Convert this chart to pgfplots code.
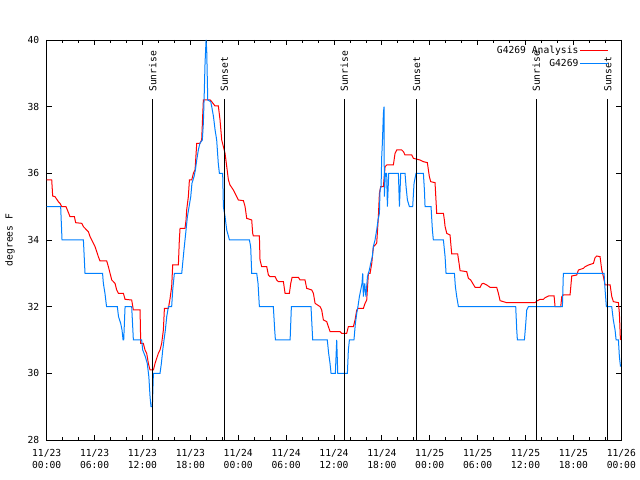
\documentclass[border=0pt]{standalone}
\usepackage{pgfplots}
\pgfplotsset{compat=1.18}
\usepackage{fontspec}
\setmainfont{DejaVu Sans Mono}
\definecolor{gred}{RGB}{255,0,0}
\definecolor{gblue}{RGB}{0,128,255}
\newcommand\fs{\fontsize{9.7}{12}\selectfont}
\begin{document}
\begin{tikzpicture}[font=\fs]
\begin{axis}[
  scale only axis, width=574.6bp, height=400bp,
  xmin=0, xmax=72, ymin=28, ymax=40,
  xtick={0,6,...,72}, minor x tick num=2,
  ytick={28,30,...,40},
  xticklabels={{11/23\\00:00},{11/23\\06:00},{11/23\\12:00},{11/23\\18:00},{11/24\\00:00},{11/24\\06:00},{11/24\\12:00},{11/24\\18:00},{11/25\\00:00},{11/25\\06:00},{11/25\\12:00},{11/25\\18:00},{11/26\\00:00}},
  xticklabel style={align=center, font=\fs, yshift=-5.5bp},
  yticklabel style={font=\fs, xshift=-4bp},
  ylabel={degrees F}, ylabel style={font=\fs}, ylabel shift=6bp,
  /pgf/number format/assume math mode=true,
  tick align=inside, xtick pos=both, ytick pos=both,
  major tick length=5bp, minor tick length=3bp,
  tick style={black, line width=0.8bp},
  axis line style={line width=0.8bp},
  legend style={at={(0.984,0.995)}, anchor=north east, draw=none, fill=none, font=\fs, row sep=1.5bp, nodes={inner sep=1.5bp}},
  legend cell align=right, legend plot pos=right,
  legend image code/.code={\draw[#1] (2bp,0bp) -- (30bp,0bp);},
]
\addplot[gred, line width=1bp] coordinates {
(0,35.8) (0.63,35.8) (0.75,35.32) (1.04,35.3) (1.46,35.15) (1.67,35.1) (1.88,35.0) (2.42,35.0) (2.59,34.9) (2.76,34.8) (2.92,34.7) (3.47,34.7) (3.63,34.52) (4.39,34.5) (4.6,34.4) (5.01,34.3) (5.22,34.25) (5.43,34.1) (5.64,34.0) (5.85,33.9) (6.06,33.8) (6.27,33.65) (6.47,33.5) (6.68,33.37) (7.52,33.37) (7.73,33.2) (7.94,33.0) (8.15,32.8) (8.56,32.7) (8.77,32.5) (8.98,32.4) (9.61,32.4) (9.82,32.22) (10.65,32.2) (10.86,31.9) (11.7,31.9) (11.78,30.9) (12.11,30.9) (12.32,30.7) (12.53,30.6) (12.74,30.3) (12.95,30.1) (13.37,30.1) (13.58,30.3) (13.78,30.45) (13.99,30.6) (14.2,30.7) (14.41,30.9) (14.62,31.3) (14.75,31.95) (15.25,31.95) (15.46,32.25) (15.66,32.6) (15.79,33.25) (16.5,33.25) (16.62,34.0) (16.71,34.35) (17.33,34.35) (17.46,34.6) (17.54,34.9) (17.75,35.3) (17.88,35.8) (18.17,35.8) (18.38,36.0) (18.59,36.1) (18.8,36.9) (19.21,36.9) (19.42,37.0) (19.63,38.2) (20.47,38.2) (20.68,38.15) (21.09,38.02) (21.51,38.02) (21.72,37.6) (21.93,37.0) (22.14,36.8) (22.35,36.6) (22.56,36.2) (22.77,35.8) (22.97,35.65) (23.39,35.5) (23.81,35.3) (24.02,35.2) (24.65,35.18) (24.86,35.0) (25.06,34.65) (25.69,34.6) (25.81,34.2) (25.9,34.12) (26.65,34.12) (26.73,33.4) (26.94,33.2) (27.57,33.2) (27.78,32.95) (27.99,32.9) (28.61,32.9) (28.82,32.8) (29.03,32.75) (29.66,32.75) (29.87,32.4) (30.41,32.4) (30.58,32.7) (30.75,32.88) (31.54,32.88) (31.75,32.8) (32.37,32.8) (32.58,32.55) (33.21,32.5) (33.42,32.4) (33.63,32.1) (34.25,32.0) (34.46,31.9) (34.67,31.6) (35.09,31.55) (35.3,31.4) (35.51,31.25) (36.76,31.25) (36.97,31.2) (37.59,31.2) (37.8,31.4) (38.43,31.4) (38.64,31.6) (38.85,31.9) (39.06,31.95) (39.68,31.95) (39.89,32.1) (40.1,32.2) (40.31,33.0) (40.52,33.0) (40.73,33.3) (40.94,33.8) (41.35,33.9) (41.56,34.7) (41.69,35.4) (41.85,35.6) (42.19,35.6) (42.4,36.2) (42.61,36.25) (43.44,36.25) (43.65,36.6) (43.86,36.7) (44.49,36.7) (44.7,36.65) (44.9,36.55) (45.74,36.55) (45.95,36.45) (46.78,36.4) (47.2,36.35) (47.7,36.32) (47.83,36.1) (47.95,35.9) (48.12,35.75) (48.66,35.72) (48.87,34.8) (49.71,34.8) (49.83,34.6) (49.92,34.4) (50.13,34.2) (50.54,34.15) (50.75,33.58) (51.5,33.58) (51.67,33.3) (51.8,33.08) (52.63,33.05) (52.84,32.85) (53.13,32.8) (53.38,32.7) (53.68,32.58) (54.3,32.58) (54.51,32.68) (54.72,32.7) (55.14,32.65) (55.56,32.58) (56.39,32.58) (56.6,32.4) (56.81,32.18) (57.64,32.12) (61.2,32.12) (61.4,32.17) (61.82,32.22) (62.24,32.22) (62.45,32.27) (62.87,32.32) (63.58,32.32) (63.7,32.0) (64.41,32.0) (64.54,32.3) (64.75,32.35) (65.58,32.35) (65.79,32.92) (66.42,32.95) (66.63,33.1) (67.25,33.15) (67.46,33.2) (67.88,33.25) (68.51,33.3) (68.71,33.47) (68.92,33.52) (69.34,33.5) (69.55,33.1) (69.76,32.9) (69.97,32.65) (70.6,32.65) (70.81,32.3) (71.01,32.15) (71.64,32.12) (71.76,31.8) (71.89,31.0)
};
\addlegendentry{G4269 Analysis}
\addplot[gblue, line width=1bp] coordinates {
(0,35.0) (1.75,35.0) (1.92,34.0) (4.6,34.0) (4.8,33.0) (7.0,33.0) (7.1,32.7) (7.3,32.4) (7.5,32.0) (8.85,32.0) (9.0,31.7) (9.27,31.5) (9.44,31.3) (9.57,31.0) (9.65,31.0) (9.82,32.0) (10.65,32.0) (10.86,31.0) (11.9,31.0) (12.03,30.7) (12.36,30.5) (12.6,30.3) (12.8,29.9) (12.95,29.3) (13.07,29.0) (13.24,29.0) (13.37,30.0) (14.2,30.0) (14.37,30.3) (14.54,30.7) (14.7,31.0) (14.87,31.3) (15.04,31.7) (15.25,32.0) (15.66,32.0) (15.79,32.5) (16.0,33.0) (16.92,33.0) (17.04,33.3) (17.2,33.7) (17.33,34.0) (17.46,34.3) (17.63,34.7) (17.84,35.0) (18.05,35.3) (18.2,35.7) (18.46,35.9) (18.63,36.1) (18.8,36.4) (19.0,36.7) (19.2,36.9) (19.5,37.0) (19.63,37.5) (19.72,38.2) (19.84,39.3) (19.97,40.0) (20.05,39.7) (20.18,38.2) (20.55,38.15) (20.68,38.0) (20.9,37.7) (21.1,37.3) (21.3,37.0) (21.5,36.3) (21.64,36.0) (22.05,36.0) (22.14,35.0) (22.35,34.7) (22.56,34.3) (22.9,34.0) (25.4,34.0) (25.56,33.8) (25.69,33.0) (26.32,33.0) (26.48,32.7) (26.65,32.0) (28.4,32.0) (28.57,31.3) (28.66,31.0) (30.5,31.0) (30.66,32.0) (33.12,32.0) (33.33,31.0) (35.16,31.0) (35.33,30.6) (35.5,30.3) (35.63,30.0) (36.17,30.0) (36.34,31.0) (36.47,30.0) (37.68,30.0) (37.8,30.7) (37.93,31.0) (38.5,31.0) (38.68,31.5) (38.85,31.8) (39.0,32.0) (39.18,32.3) (39.35,32.5) (39.51,32.7) (39.6,33.0) (39.68,32.3) (39.85,32.7) (40.0,32.3) (40.19,32.9) (40.43,33.1) (40.6,33.3) (40.8,33.5) (40.93,33.8) (41.14,34.0) (41.35,34.3) (41.52,34.6) (41.69,34.8) (41.77,35.5) (41.9,35.6) (41.98,36.5) (42.06,36.9) (42.19,37.8) (42.27,38.0) (42.31,35.3) (42.44,36.0) (42.6,36.0) (42.69,35.0) (42.86,36.0) (44.07,36.0) (44.2,35.0) (44.36,36.0) (44.9,36.0) (45.03,35.6) (45.2,35.2) (45.45,35.0) (45.86,35.0) (46.03,35.7) (46.28,36.0) (47.2,36.0) (47.33,35.5) (47.41,35.0) (48.16,35.0) (48.33,34.3) (48.45,34.0) (49.71,34.0) (49.92,33.5) (50.04,33.0) (51.09,33.0) (51.21,32.6) (51.38,32.3) (51.59,32.0) (58.77,32.0) (58.9,31.3) (58.98,31.0) (59.86,31.0) (60.03,31.5) (60.15,31.9) (60.36,32.0) (64.62,32.0) (64.74,33.0) (69.84,33.0) (69.97,32.5) (70.13,32.0) (70.8,32.0) (71.0,31.6) (71.22,31.3) (71.35,31.0) (71.64,31.0) (71.76,30.5) (71.9,30.2)
};
\addlegendentry{G4269}
\addplot[black, line width=1bp, forget plot] coordinates {(13.28,28) (13.28,38.22)};
\addplot[black, line width=1bp, forget plot] coordinates {(22.26,28) (22.26,38.22)};
\addplot[black, line width=1bp, forget plot] coordinates {(37.3,28) (37.3,38.22)};
\addplot[black, line width=1bp, forget plot] coordinates {(46.35,28) (46.35,38.22)};
\addplot[black, line width=1bp, forget plot] coordinates {(61.35,28) (61.35,38.22)};
\addplot[black, line width=1bp, forget plot] coordinates {(70.3,28) (70.3,38.22)};
\node[rotate=90, anchor=west, inner sep=0pt] at (axis cs:13.28,38.44) {Sunrise};
\node[rotate=90, anchor=west, inner sep=0pt] at (axis cs:22.26,38.44) {Sunset};
\node[rotate=90, anchor=west, inner sep=0pt] at (axis cs:37.3,38.44) {Sunrise};
\node[rotate=90, anchor=west, inner sep=0pt] at (axis cs:46.35,38.44) {Sunset};
\node[rotate=90, anchor=west, inner sep=0pt] at (axis cs:61.35,38.44) {Sunrise};
\node[rotate=90, anchor=west, inner sep=0pt] at (axis cs:70.3,38.44) {Sunset};
\node[yshift=18bp, anchor=base] at (rel axis cs:0.4965,1) {Temperature for G4269 on 2024-Nov-23 (time in UTC)};
\end{axis}
\pgfresetboundingbox
\path (-46.7bp,-40bp) rectangle (593.3bp,440bp);
\end{tikzpicture}
\end{document}
